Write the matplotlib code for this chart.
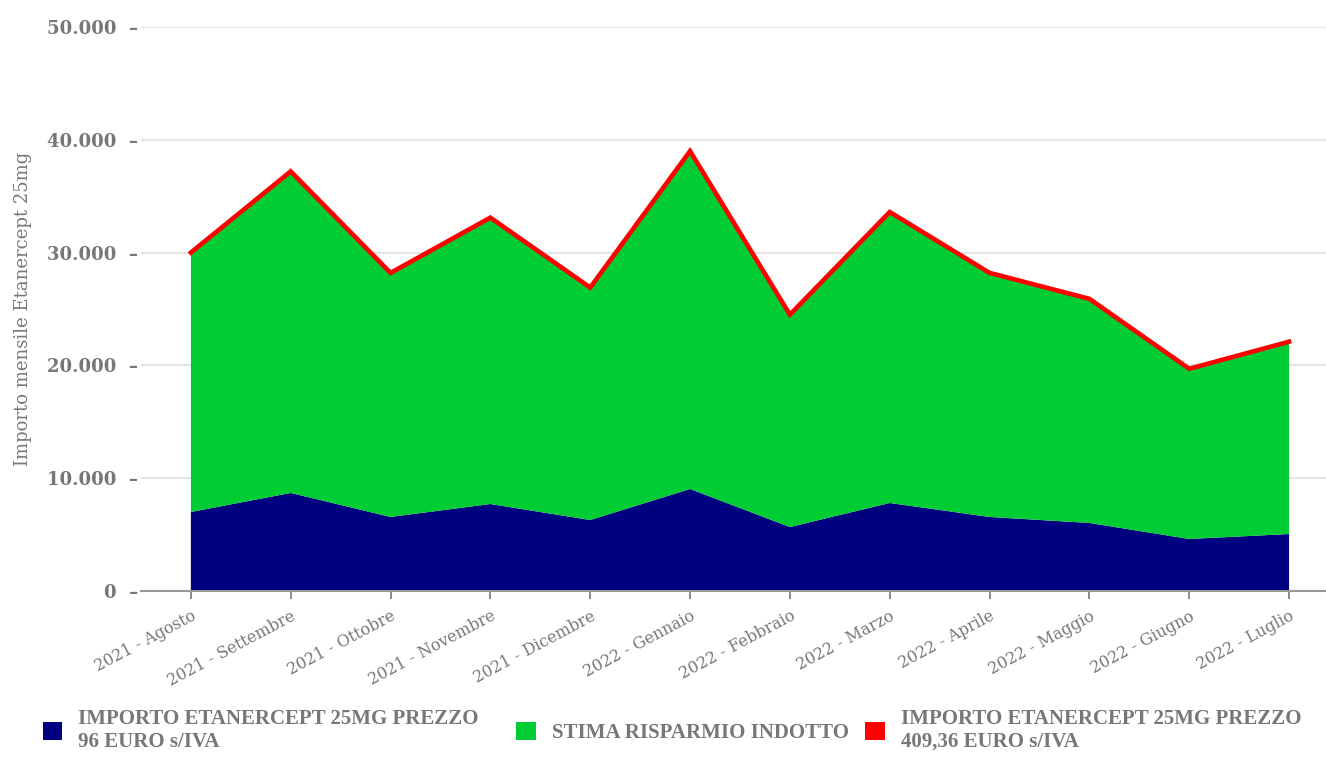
import matplotlib
matplotlib.use("Agg")
import matplotlib.pyplot as plt
from matplotlib.patches import Patch
import numpy as np

months = [
    "2021 - Agosto", "2021 - Settembre", "2021 - Ottobre", "2021 - Novembre",
    "2021 - Dicembre", "2022 - Gennaio", "2022 - Febbraio", "2022 - Marzo",
    "2022 - Aprile", "2022 - Maggio", "2022 - Giugno", "2022 - Luglio",
]
# importo a 96 euro (serie in basso)
importo_96 = [7000, 8690, 6560, 7710, 6290, 9040, 5670, 7800, 6560, 6030, 4610, 5050]
# importo a 409,36 euro (totale, linea rossa)
importo_409 = [30000, 37200, 28200, 33100, 26900, 39000, 24500, 33600, 28200, 25900, 19700, 22100]
# stima risparmio = differenza tra i due importi
risparmio = [t - b for t, b in zip(importo_409, importo_96)]

labels = [
    "IMPORTO ETANERCEPT 25MG PREZZO    \n96 EURO s/IVA",
    "STIMA RISPARMIO INDOTTO",
    "IMPORTO ETANERCEPT 25MG PREZZO\n409,36 EURO s/IVA",
]
colors = ["#000080", "#00CC33", "#FF0000"]
yticks = [0, 10000, 20000, 30000, 40000, 50000]

gray = "#777777"
serif = "DejaVu Serif"

fig = plt.figure(figsize=(13.26, 7.67), dpi=100)
ax = fig.add_axes([0.1063, 0.2295, 0.8937, 0.7353])

x = np.arange(len(months))
ax.stackplot(x, importo_96, risparmio, colors=colors[:2], linewidth=0, zorder=2)
ax.plot(x, importo_409, color=colors[2], linewidth=3.3, solid_joinstyle="miter", zorder=3)

ax.set_xlim(-0.5, 11.37)
ax.set_ylim(0, 50000)

ax.set_yticks(yticks)
ax.set_yticklabels([f"{v:,}".replace(",", ".") + "  \u2013" for v in yticks],
                   fontfamily=serif, fontweight="bold", fontsize=13, color=gray)
ax.tick_params(axis="y", length=0, pad=2)
ax.grid(axis="y", color="#e4e4e4", linewidth=1.5, zorder=0)
ax.set_axisbelow(True)

ax.set_xticks(x)
ax.set_xticklabels(months, rotation=28, ha="right", rotation_mode="anchor",
                   fontfamily=serif, fontsize=11.5, color=gray)
ax.tick_params(axis="x", length=6, width=1.2, color=gray, pad=6)

for side in ["top", "right", "left"]:
    ax.spines[side].set_visible(False)
ax.spines["bottom"].set_color("#999999")
ax.spines["bottom"].set_linewidth(1.5)

ax.set_ylabel("Importo mensile Etanercept 25mg", fontfamily=serif, fontsize=13,
              color=gray)
ax.yaxis.set_label_coords(-0.092, 0.5)

handles = [Patch(facecolor=c, edgecolor="none") for c in colors]
fig.legend(handles, labels, loc="lower left", bbox_to_anchor=(0.018, -0.005), ncol=3,
           frameon=False, handlelength=0.95, handleheight=0.95, handletextpad=0.75,
           columnspacing=0.8,
           prop={"family": "Liberation Serif", "size": 15, "weight": "bold"},
           labelcolor=gray)

fig.savefig("out.png", dpi=100, facecolor="white")
